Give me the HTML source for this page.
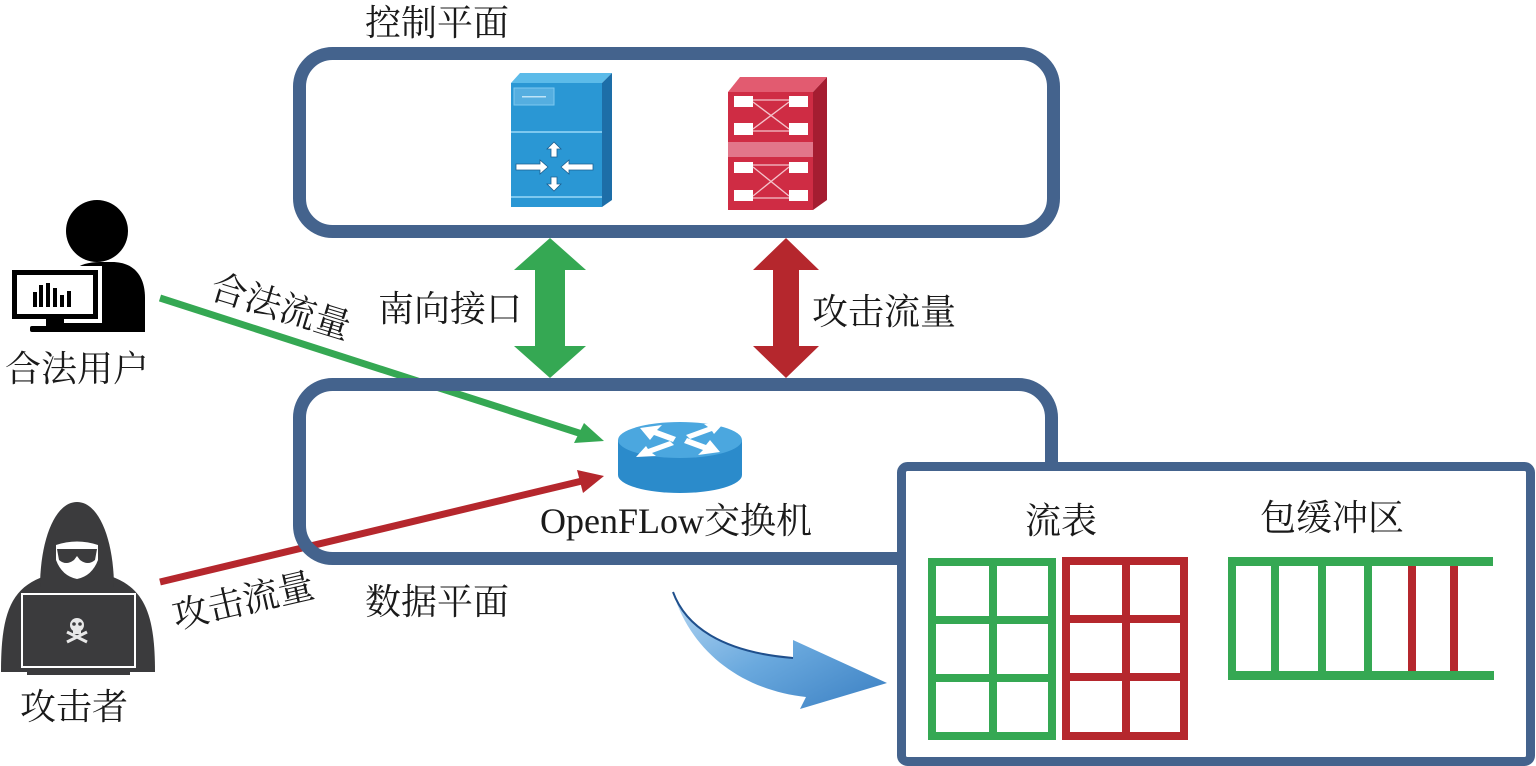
<!DOCTYPE html>
<html><head><meta charset="utf-8"><style>
html,body{margin:0;padding:0;background:#fff;width:1536px;height:766px;overflow:hidden;}
svg{display:block}
text{font-family:"Liberation Serif","Noto Serif CJK SC",serif;fill:#1a1a1a;}
</style></head><body>
<svg width="1536" height="766" viewBox="0 0 1536 766" xmlns="http://www.w3.org/2000/svg">
<defs>
<linearGradient id="cg" x1="0" y1="0" x2="1" y2="1">
<stop offset="0" stop-color="#b7d8f3"/><stop offset="0.5" stop-color="#6aa9de"/><stop offset="1" stop-color="#3a7fc2"/>
</linearGradient>
</defs>

<!-- traffic lines -->
<line x1="160" y1="298" x2="582" y2="434" stroke="#35a853" stroke-width="7"/>
<polygon points="604,441 574,443 584,423" fill="#35a853"/>
<line x1="160" y1="582" x2="582" y2="481" stroke="#b5272d" stroke-width="7"/>
<polygon points="604,476 577,470 583,493" fill="#b5272d"/>

<!-- boxes -->
<rect x="299.5" y="53.5" width="754" height="178" rx="33" fill="none" stroke="#44638d" stroke-width="13"/>
<rect x="299.5" y="384.5" width="752" height="174" rx="33" fill="none" stroke="#44638d" stroke-width="13"/>

<!-- double arrows -->
<polygon points="550,238 586,270 565,270 565,346 586,346 550,378 514,346 535,346 535,270 514,270" fill="#35a853"/>
<polygon points="786,238 819,270 799,270 799,346 819,346 786,378 753,346 773,346 773,270 753,270" fill="#b5272d"/>

<!-- blue controller icon -->
<polygon points="511,83 520,73 612,73 602,83" fill="#5cbbe9"/>
<polygon points="602,83 612,73 612,200 602,207" fill="#1d6ea8"/>
<rect x="511" y="83" width="91" height="124" fill="#2a97d4"/>
<rect x="511" y="131" width="91" height="2" fill="#7dc8ef"/>
<rect x="511" y="196" width="91" height="2" fill="#7dc8ef"/>
<rect x="514" y="88" width="40" height="17" fill="#55aee0" stroke="#7dc8ef" stroke-width="1"/>
<rect x="522" y="96" width="24" height="1.5" fill="#bfe4f7"/>
<g fill="#fff" stroke="#1d5f90" stroke-width="0.8">
<polygon points="516,164 540,164 540,160 548,167 540,174 540,170 516,170"/>
<polygon points="593,164 569,164 569,160 561,167 569,174 569,170 593,170"/>
<polygon points="551,157 551,149 547,149 554,142 561,149 557,149 557,157"/>
<polygon points="551,177 551,184 547,184 554,191 561,184 557,184 557,177"/>
</g>

<!-- red switch icon -->
<polygon points="728,92 740,77 827,77 813,92" fill="#e25b70"/>
<polygon points="813,92 827,77 827,200 813,210" fill="#a51d31"/>
<rect x="728" y="92" width="85" height="118" fill="#cf2c44"/>
<rect x="728" y="142" width="85" height="15" fill="#e2768a"/>
<g fill="#fff">
<rect x="734" y="96" width="19" height="11"/><rect x="789" y="96" width="19" height="11"/>
<rect x="734" y="123" width="19" height="12"/><rect x="789" y="123" width="19" height="12"/>
<rect x="734" y="162" width="19" height="11"/><rect x="789" y="162" width="19" height="11"/>
<rect x="734" y="190" width="19" height="11"/><rect x="789" y="190" width="19" height="11"/>
</g>
<g stroke="#f4c3cb" stroke-width="1.3">
<line x1="753" y1="102" x2="789" y2="129"/><line x1="753" y1="129" x2="789" y2="102"/>
<line x1="753" y1="167" x2="789" y2="196"/><line x1="753" y1="196" x2="789" y2="167"/>
<line x1="753" y1="100" x2="789" y2="100"/><line x1="753" y1="131" x2="789" y2="131"/>
<line x1="753" y1="165" x2="789" y2="165"/><line x1="753" y1="198" x2="789" y2="198"/>
</g>

<!-- router -->
<path d="M618 440 L618 475 A62 18 0 0 0 742 475 L742 440 Z" fill="#2b8bcb"/>
<ellipse cx="680" cy="440" rx="62" ry="18" fill="#4ba7df"/>
<g fill="#fff">
<polygon points="640,428 662,425 657,430 676,437 673,442 654,435 650,440"/>
<polygon points="720,452 698,455 703,450 684,443 687,438 706,445 710,440"/>
<polygon points="674,445 652,453 656,456 636,457 646,446 648,449 670,441"/>
<polygon points="686,435 708,427 704,424 724,423 714,434 712,431 690,439"/>
</g>

<!-- curved blue arrow -->
<path d="M673 592 C685 625 720 652 793 658 L793 640 L887 683 L800 709 L806 697 C740 690 690 650 673 592 Z" fill="url(#cg)"/>
<path d="M673 592 C685 625 720 652 793 658" fill="none" stroke="#1f4f8c" stroke-width="2"/>

<!-- legit user icon -->
<circle cx="97" cy="231" r="31" fill="#000"/>
<path d="M64 332 V295 C64 272 78 262 100 262 H112 C134 262 145 276 145 298 V332 Z" fill="#000"/>
<rect x="8" y="266" width="94" height="57" fill="#fff"/>
<rect x="12" y="270" width="86" height="49" fill="#000"/>
<rect x="17" y="275" width="76" height="39" fill="#fff"/>
<g fill="#000">
<rect x="33" y="292" width="4" height="15"/><rect x="39" y="285" width="4" height="22"/>
<rect x="46" y="283" width="4" height="24"/><rect x="53" y="288" width="4" height="19"/>
<rect x="60" y="295" width="4" height="12"/><rect x="67" y="291" width="4" height="16"/>
</g>
<rect x="46" y="319" width="18" height="9" fill="#000"/>
<rect x="30" y="326" width="50" height="6" rx="2" fill="#000"/>

<!-- attacker icon -->
<path d="M1 672 C1 615 10 588 45 576 L110 576 C145 588 155 615 155 672 Z" fill="#3b3b3d"/>
<path d="M40 588 C40 540 55 502 77 502 C99 502 114 540 114 588 Z" fill="#3b3b3d"/>
<path d="M56 545 Q77 538 98 545 L98 560 Q92 576 77 579 Q62 576 56 560 Z" fill="#fff"/>
<path d="M57 549 L97 549 L95 560 Q88 566 80 560 L77 556 L74 560 Q66 566 59 560 Z" fill="#3b3b3d"/>
<rect x="22" y="594" width="113" height="73" fill="#3b3b3d" stroke="#fff" stroke-width="2"/>
<rect x="27" y="669" width="103" height="6" fill="#3b3b3d"/>
<circle cx="77" cy="625" r="7" fill="#e8e8e8"/>
<rect x="73" y="629" width="8" height="5" fill="#e8e8e8"/>
<circle cx="74" cy="624" r="1.8" fill="#3b3b3d"/><circle cx="80" cy="624" r="1.8" fill="#3b3b3d"/>
<line x1="67" y1="632" x2="87" y2="642" stroke="#e8e8e8" stroke-width="3"/>
<line x1="87" y1="632" x2="67" y2="642" stroke="#e8e8e8" stroke-width="3"/>

<!-- flow table box -->
<rect x="901.5" y="466.5" width="629" height="295" rx="6" fill="#fff" stroke="#44638d" stroke-width="9"/>

<!-- green flow table grid -->
<g stroke="#35a853" stroke-width="8" fill="none">
<rect x="932" y="562" width="120" height="174"/>
<line x1="993" y1="562" x2="993" y2="736"/>
<line x1="932" y1="620" x2="1052" y2="620"/>
<line x1="932" y1="678" x2="1052" y2="678"/>
</g>
<g stroke="#b5272d" stroke-width="8" fill="none">
<rect x="1066" y="561" width="118" height="175"/>
<line x1="1126" y1="561" x2="1126" y2="736"/>
<line x1="1066" y1="619" x2="1184" y2="619"/>
<line x1="1066" y1="677" x2="1184" y2="677"/>
</g>

<!-- buffer -->
<g stroke="#35a853" stroke-width="9">
<line x1="1228" y1="561.5" x2="1493" y2="561.5"/>
<line x1="1228" y1="675.5" x2="1494" y2="675.5"/>
</g>
<g stroke="#35a853" stroke-width="8">
<line x1="1232" y1="557" x2="1232" y2="680"/>
<line x1="1275" y1="566" x2="1275" y2="671"/>
<line x1="1322" y1="566" x2="1322" y2="671"/>
<line x1="1368" y1="566" x2="1368" y2="671"/>
</g>
<g stroke="#b5272d" stroke-width="8">
<line x1="1412" y1="566" x2="1412" y2="671"/>
<line x1="1454" y1="566" x2="1454" y2="671"/>
</g>

<!-- labels -->
<g font-size="36">
<text x="365" y="35">控制平面</text>
<text x="378" y="321">南向接口</text>
<text x="812" y="324">攻击流量</text>
<text x="5" y="381">合法用户</text>
<text x="540" y="533">OpenFLow交换机</text>
<text x="365" y="614">数据平面</text>
<text x="20" y="719">攻击者</text>
<text x="1025" y="533">流表</text>
<text x="1260" y="530">包缓冲区</text>
<text transform="translate(281,306) rotate(17)" text-anchor="middle" y="13">合法流量</text>
<text transform="translate(243,600) rotate(-13)" text-anchor="middle" y="13">攻击流量</text>
</g>
</svg>
</body></html>
